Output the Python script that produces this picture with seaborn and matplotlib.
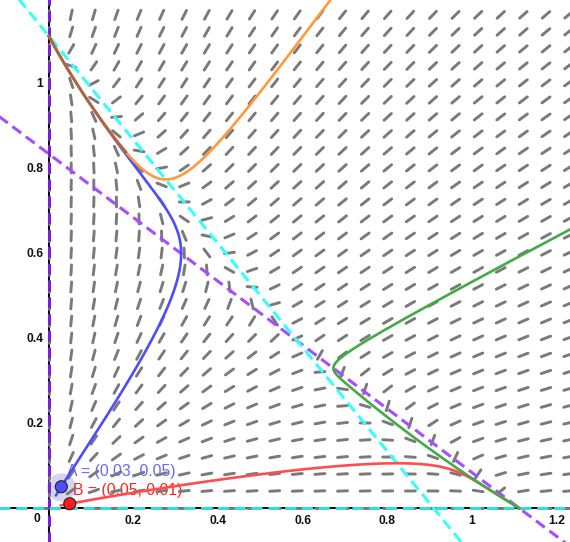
import numpy as np
import matplotlib
matplotlib.use("Agg")
import matplotlib.pyplot as plt
from matplotlib.collections import LineCollection
import seaborn as sns

# Two-species competition model
#   x' = r_x * x * (1 - a_xx x - a_xy y)
#   y' = r_y * y * (1 - a_yx x - a_yy y)
growth = [1.0, 0.94]       # r_x, r_y
compet_x = [0.9, 1.2]      # a_xx, a_xy
compet_y = [1.1, 0.9]      # a_yx, a_yy

# labelled starting points
point_names = ["A", "B"]
point_x = [0.03, 0.05]
point_y = [0.05, 0.01]

# starting states of the four drawn orbits (blue, red, orange, green)
start_x = [0.03, 0.05, 0.652, 1.231]
start_y = [0.05, 0.01, 1.177, 0.655]
orbit_colors = ["#4d4dff", "#ff4d4d", "#ff9a3c", "#44aa44"]
shared_color = "#b0643c"   # where the orange orbit runs on top of the blue one

x_ticks = [0.2, 0.4, 0.6, 0.8, 1.0, 1.2]
x_tick_labels = ["0.2", "0.4", "0.6", "0.8", "1", "1.2"]
y_ticks = [0.2, 0.4, 0.6, 0.8, 1.0]
y_tick_labels = ["0.2", "0.4", "0.6", "0.8", "1"]

# slope-field grid
field_step_x, field_cols = 0.0534, 24
field_step_y, field_rows = 0.04, 30

XMIN, XMAX = -0.1148, 1.2315
YMIN, YMAX = -0.080, 1.195

sns.set_style("white")
plt.rcParams["font.family"] = ["Liberation Sans", "DejaVu Sans"]

fig = plt.figure(figsize=(5.70, 5.42), dpi=100)
ax = fig.add_axes([0, 0, 1, 1])
ax.set_xlim(XMIN, XMAX)
ax.set_ylim(YMIN, YMAX)


def rhs(s):
    x, y = s
    return np.array([
        growth[0] * x * (1 - compet_x[0] * x - compet_x[1] * y),
        growth[1] * y * (1 - compet_y[0] * x - compet_y[1] * y),
    ])


def integrate(x0, y0, t_end, h):
    s = np.array([x0, y0], dtype=float)
    pts = [s.copy()]
    for _ in range(int(abs(t_end) / abs(h))):
        k1 = rhs(s)
        k2 = rhs(s + 0.5 * h * k1)
        k3 = rhs(s + 0.5 * h * k2)
        k4 = rhs(s + h * k3)
        s = s + h / 6 * (k1 + 2 * k2 + 2 * k3 + k4)
        pts.append(s.copy())
        if abs(s[0]) > 3 or abs(s[1]) > 3:
            break
    return np.array(pts)


def orbit(x0, y0):
    back = integrate(x0, y0, 0.6, -0.002)[::-1]
    fwd = integrate(x0, y0, 80.0, 0.004)
    return np.vstack([back, fwd[1:]])


# slope field: short segments of fixed on-screen length
px_per_x = fig.get_figwidth() * fig.dpi / (XMAX - XMIN)
px_per_y = fig.get_figheight() * fig.dpi / (YMAX - YMIN)
seg_px = 10.0
gx, gy = np.meshgrid(np.arange(field_cols) * field_step_x,
                     np.arange(field_rows) * field_step_y)
gx, gy = gx.ravel(), gy.ravel()
d = rhs((gx, gy))
u = d[0] * px_per_x
v = d[1] * px_per_y
mag = np.hypot(u, v)
safe = np.where(mag == 0, 1.0, mag)
ux = np.where(mag == 0, 1.0, u / safe)
uy = np.where(mag == 0, 0.0, v / safe)
hx = 0.5 * seg_px * ux / px_per_x
hy = 0.5 * seg_px * uy / px_per_y
segs = np.stack([np.column_stack([gx - hx, gy - hy]),
                 np.column_stack([gx + hx, gy + hy])], axis=1)
ax.add_collection(LineCollection(segs, colors="#7a7a7a", linewidths=2.1,
                                 capstyle="round", zorder=3))

# nullclines
xs = np.array([XMIN - 0.1, XMAX + 0.1])
dash = (0, (3.6, 1.9))
ax.plot(xs, (1 - compet_x[0] * xs) / compet_x[1], color="#a64dff", lw=2.2,
        ls=dash, zorder=4)
ax.plot(xs, (1 - compet_y[0] * xs) / compet_y[1], color="#33ffff", lw=2.2,
        ls=dash, zorder=4)

# axes through the origin
for side in ["top", "right"]:
    ax.spines[side].set_visible(False)
ax.spines["left"].set_position(("data", 0))
ax.spines["bottom"].set_position(("data", 0))
for side in ["left", "bottom"]:
    ax.spines[side].set_linewidth(1.4)
    ax.spines[side].set_color("black")
    ax.spines[side].set_zorder(2)
ax.set_xticks(x_ticks, x_tick_labels)
ax.set_yticks(y_ticks, y_tick_labels)
ax.tick_params(axis="both", direction="out", length=3, width=1.4,
               labelsize=8.7, colors="#111111")
ax.tick_params(axis="x", pad=1.8)
ax.tick_params(axis="y", pad=0.8)
for lab in ax.get_xticklabels() + ax.get_yticklabels():
    lab.set_fontweight("bold")
ax.text(-0.0275, -0.0262, "0", fontsize=8.7, fontweight="bold",
        color="#111111", ha="center", va="center")

# trivial nullclines along the axes
ax.plot([0, 0], [YMIN - 0.1, YMAX + 0.1], color="#7a1fd6", lw=2.2, ls=dash,
        zorder=4)
ax.plot([XMIN - 0.1, XMAX + 0.1], [0, 0], color="#33dddd", lw=2.2, ls=dash,
        zorder=4)

# orbits
orbits = [orbit(x0, y0) for x0, y0 in zip(start_x, start_y)]
for o, c in zip(orbits, orbit_colors):
    sns.lineplot(x=o[:, 0], y=o[:, 1], sort=False, estimator=None, color=c,
                 lw=1.9, ax=ax, zorder=5)

# stretch where the orange orbit merges into the blue one
blue, orange = orbits[0], orbits[2]
top_blue = blue[np.argmax(blue[:, 0]):]
gap = np.abs(orange[:, 0] - np.interp(orange[:, 1], top_blue[:, 1],
                                      top_blue[:, 0]))
after_min = np.arange(len(orange)) > np.argmin(orange[:, 1])
merged = orange[after_min & (gap < 0.004) & (orange[:, 1] > 0.6)]
if len(merged):
    sns.lineplot(x=merged[:, 0], y=merged[:, 1], sort=False, estimator=None,
                 color=shared_color, lw=2.0, ax=ax, zorder=5.5)

# labelled points: selection halo under the labels, markers on top
ax.scatter([point_x[0]], [point_y[0]], s=420, color="#c4c4ec", alpha=0.7,
           lw=0, zorder=2.3)
sns.scatterplot(x=point_x, y=point_y, hue=point_names,
                palette=["#4d4dff", "#ff1a1a"], s=75, edgecolor="#222222",
                linewidth=0.8, legend=False, ax=ax, zorder=7)
ax.text(point_x[0] + 0.013, point_y[0] + 0.035,
        f"{point_names[0]} = ({point_x[0]:.2f}, {point_y[0]:.2f})",
        color="#6666ff", fontsize=11.3, va="center", ha="left", zorder=2.5)
ax.text(point_x[1] + 0.007, point_y[1] + 0.032,
        f"{point_names[1]} = ({point_x[1]:.2f}, {point_y[1]:.2f})",
        color="#ff2222", fontsize=11.3, va="center", ha="left", zorder=2.5)

ax.set_xlabel("")
ax.set_ylabel("")
fig.savefig("out.png", dpi=100)
